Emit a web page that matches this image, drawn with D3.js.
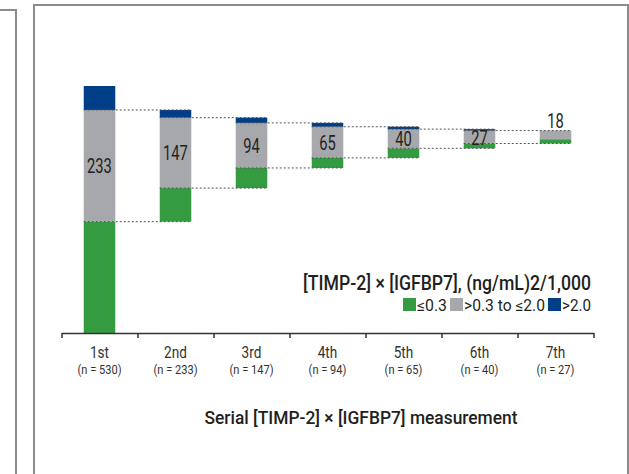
<!DOCTYPE html>
<html>
<head>
<meta charset="utf-8">
<script src="https://cdn.jsdelivr.net/npm/d3@7"></script>
<style>
  html, body { margin: 0; padding: 0; background: #fff; }
  svg { display: block; }
  text { font-family: Roboto, "Liberation Sans", sans-serif; fill: #231f20; }
</style>
</head>
<body>
<svg id="chart" width="629" height="474"></svg>
<script>
// ---- data ----
const measurements = ["1st", "2nd", "3rd", "4th", "5th", "6th", "7th"];
const nCounts      = [530, 233, 147, 94, 65, 40, 27];
const lowCounts    = [247, 70, 42, 21, 20, 10, 9];     // <=0.3
const midCounts    = [233, 147, 94, 65, 40, 27, 18];   // >0.3 to <=2.0
const highCounts   = [50, 16, 11, 8, 5, 3, 0];         // >2.0
const legendLabels = ["\u22640.3", ">0.3 to \u22642.0", ">2.0"];
const colors       = ["#359b41", "#a7a8ac", "#003f87"];

const svg = d3.select("#chart");

// condensed look: squeeze text horizontally
function squeeze(sel, f) {
  sel.each(function () {
    const w = this.getComputedTextLength();
    d3.select(this).attr("textLength", w * f).attr("lengthAdjust", "spacingAndGlyphs");
  });
  return sel;
}
function fitTo(sel, w) {
  return sel.attr("textLength", w).attr("lengthAdjust", "spacingAndGlyphs");
}

// panel borders
svg.append("path").attr("d", "M0,10 H16 V474").attr("fill", "none")
  .attr("stroke", "#8c8c8c").attr("stroke-width", 2);
svg.append("path").attr("d", "M34,474 V5 H628 V474").attr("fill", "none")
  .attr("stroke", "#8c8c8c").attr("stroke-width", 2);

// scales
const axisY = 333;
const x = d3.scaleBand().domain(measurements).range([61.5, 593.5]).padding(0);
const xEdge = d3.scaleLinear().domain([0, measurements.length]).range([61.5, 593.5]);
const y = d3.scaleLinear().domain([0, 530]).range([340, 86]);
const barW = x.bandwidth() * 0.415;

// cumulative bases (waterfall)
const bases = [];
let acc = 0;
measurements.forEach((m, i) => { bases.push(acc); acc += lowCounts[i]; });

svg.append("clipPath").attr("id", "plotclip")
  .append("rect").attr("x", 40).attr("y", 0).attr("width", 580).attr("height", axisY);

const barsG = svg.append("g").attr("clip-path", "url(#plotclip)");
measurements.forEach((m, i) => {
  const cx = x(m) + x.bandwidth() / 2;
  const segs = [
    [bases[i], bases[i] + lowCounts[i], colors[0]],
    [bases[i] + lowCounts[i], bases[i] + lowCounts[i] + midCounts[i], colors[1]],
    [bases[i] + lowCounts[i] + midCounts[i], bases[i] + nCounts[i], colors[2]]
  ];
  segs.forEach(([a, b, c]) => {
    if (b - a <= 0) return;
    barsG.append("rect")
      .attr("x", cx - barW / 2).attr("width", barW)
      .attr("y", y(b)).attr("height", y(a) - y(b))
      .attr("fill", c);
  });
});

// dotted connector lines
const linesG = svg.append("g");
for (let i = 0; i < measurements.length - 1; i++) {
  const x0 = x(measurements[i]) + x.bandwidth() / 2 - barW / 2;
  const x1 = x(measurements[i + 1]) + x.bandwidth() / 2 + barW / 2;
  [bases[i] + lowCounts[i], bases[i] + lowCounts[i] + midCounts[i]].forEach(v => {
    linesG.append("line")
      .attr("x1", x0).attr("x2", x1)
      .attr("y1", y(v)).attr("y2", y(v))
      .attr("stroke", "#555").attr("stroke-width", 1)
      .attr("stroke-dasharray", "2,2");
  });
}

// value labels (mid category)
measurements.forEach((m, i) => {
  const cx = x(m) + x.bandwidth() / 2;
  const lo = bases[i] + lowCounts[i], hi = lo + midCounts[i];
  const last = i === measurements.length - 1;
  const yy = last ? y(bases[i] + nCounts[i]) - 3 : (y(lo) + y(hi)) / 2 + 7.5;
  const t = svg.append("text")
    .attr("x", cx).attr("y", yy)
    .attr("text-anchor", "middle")
    .style("font-size", "21px")
    .text(midCounts[i]);
  squeeze(t, 0.7);
});

// x axis
const axisG = svg.append("g").attr("transform", `translate(0,${axisY})`)
  .call(d3.axisBottom(xEdge).tickValues(d3.range(measurements.length + 1))
    .tickSize(5).tickSizeOuter(0).tickFormat(""));
axisG.select(".domain").attr("stroke", "#333").attr("stroke-width", 1.5);
axisG.selectAll(".tick line").attr("stroke", "#333").attr("stroke-width", 1.5);

measurements.forEach((m, i) => {
  const cx = x(m) + x.bandwidth() / 2;
  squeeze(svg.append("text").attr("x", cx).attr("y", 357.5)
    .attr("text-anchor", "middle").style("font-size", "17px").style("fill", "#333").text(m), 0.8);
  squeeze(svg.append("text").attr("x", cx).attr("y", 374)
    .attr("text-anchor", "middle").style("font-size", "13.5px").style("fill", "#333")
    .text(`(n = ${nCounts[i]})`), 0.82);
});

// axis title
fitTo(svg.append("text").attr("x", 361).attr("y", 424)
  .attr("text-anchor", "middle").style("font-size", "19px").style("font-weight", "500")
  .text("Serial [TIMP-2] \u00d7 [IGFBP7] measurement"), 313);

// legend title
fitTo(svg.append("text").attr("x", 591).attr("y", 290)
  .attr("text-anchor", "end").style("font-size", "20px").style("font-weight", "500")
  .text("[TIMP-2] \u00d7 [IGFBP7], (ng/mL)2/1,000"), 288);

// legend
const legendWidths = [30, 81, 29];
const legG = svg.append("g");
let lx = 0;
legendLabels.forEach((lab, i) => {
  legG.append("rect").attr("x", lx).attr("y", 298).attr("width", 13).attr("height", 13)
    .attr("fill", colors[i]);
  fitTo(legG.append("text").attr("x", lx + 14).attr("y", 310.5)
    .style("font-size", "16px").text(lab), legendWidths[i]);
  lx += 14 + legendWidths[i] + 3;
});
legG.attr("transform", `translate(${591 - (lx - 3)},0)`);
</script>
</body>
</html>
